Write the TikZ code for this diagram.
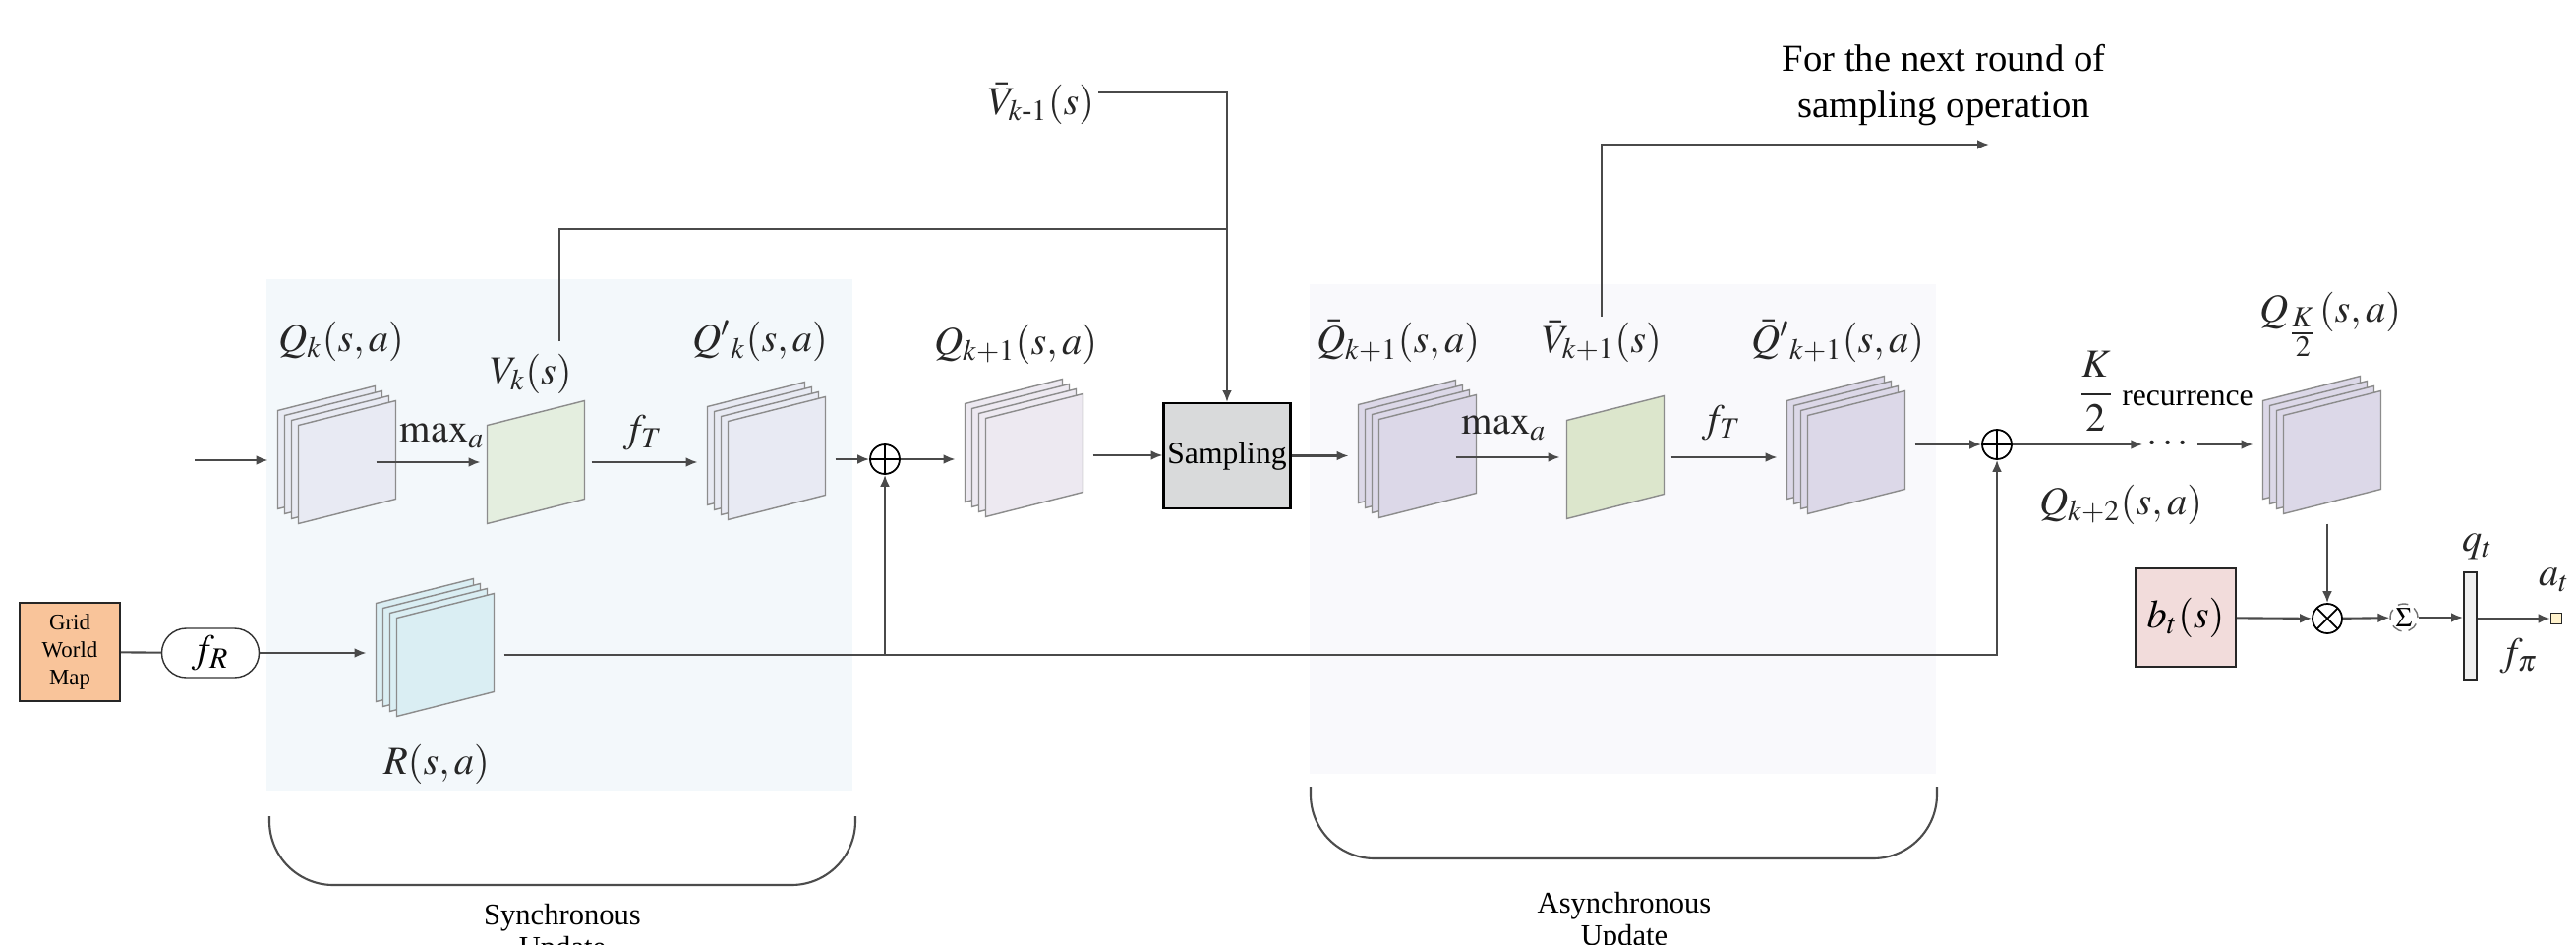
\documentclass[tikz,border=0pt]{standalone}
\usepackage{amsmath}
\usepackage{mathptmx}
\usepackage[no-math]{fontspec}
\setmainfont{Liberation Serif}
\usepackage{tikz}
\usetikzlibrary{positioning,calc,arrows.meta}

\definecolor{synbg}{HTML}{F3F8FB}
\definecolor{asybg}{HTML}{F9F9FC}
\definecolor{qkfill}{HTML}{E8EAF3}
\definecolor{vfill}{HTML}{E4EEDF}
\definecolor{qnfill}{HTML}{EDE9F1}
\definecolor{qbfill}{HTML}{DCD8E8}
\definecolor{vbfill}{HTML}{DCE6CC}
\definecolor{rfill}{HTML}{DAEEF3}
\definecolor{gridfill}{HTML}{F9C49A}
\definecolor{btfill}{HTML}{F2DCDB}
\definecolor{sampfill}{HTML}{D9DADB}
\definecolor{atfill}{HTML}{FFF2CC}
\definecolor{lnc}{HTML}{4A4A4A}

\tikzset{%
  ptr/.style={%
    -{Latex[length=3.4pt,width=2.8pt]},
    draw=lnc,
    line width=0.6pt
  },
  wire/.style={draw=lnc, line width=0.6pt},
  sheet/.style={draw=black!45, line width=0.4pt},
  stackbox/.style={inner sep=0, outer sep=0.1cm, minimum width=1.2cm, minimum height=1.25cm},
  onebox/.style={inner sep=0, outer sep=0.07cm, minimum width=0.99cm, minimum height=1.25cm},
  lbl/.style={font=\fontsize{11.5}{13}\selectfont, text=black!85, inner sep=1pt},
  sumc/.style={circle, draw=black, line width=0.5pt, minimum size=0.30cm, inner sep=0,
    path picture={\draw[line width=0.5pt] (path picture bounding box.north) -- (path picture bounding box.south)
      (path picture bounding box.west) -- (path picture bounding box.east);}},
  prodc/.style={circle, draw=black, line width=0.5pt, minimum size=0.30cm, inner sep=0,
    path picture={\draw[line width=0.5pt] (path picture bounding box.north west) -- (path picture bounding box.south east)
      (path picture bounding box.south west) -- (path picture bounding box.north east);}},
  brk/.style={draw=black!70, line width=0.6pt, rounded corners=0.65cm}
}

% stack of four sheets, front sheet centred at (#2,#3)
\newcommand{\sheetstack}[4]{%
  \foreach \n in {3,2,1,0}{%
    \filldraw[sheet,fill=#4] ($(#2,#3)+(-0.495-0.07*\n,-0.625+0.05*\n)$)
      -- ++(0.99,0.25) -- ++(0,1) -- ++(-0.99,-0.25) -- cycle;
  }
  \node[stackbox] (#1) at ($(#2,#3)+(-0.105,0)$) {};
}
% one single sheet
\newcommand{\sheetone}[4]{%
  \filldraw[sheet,fill=#4] ($(#2,#3)+(-0.495,-0.625)$)
    -- ++(0.99,0.25) -- ++(0,1) -- ++(-0.99,-0.25) -- cycle;
  \node[onebox] (#1) at (#2,#3) {};
}

\begin{document}
\begin{tikzpicture}
  \path[use as bounding box, fill=white] (0,0) rectangle (26.2,-9.61);

  % update regions
  \fill[synbg] (2.71,-2.84) rectangle (8.67,-8.04);
  \fill[asybg] (13.32,-2.89) rectangle (19.69,-7.87);
  \draw[brk] (2.74,-8.30) -- (2.74,-9.00) -- (8.70,-9.00) -- (8.70,-8.30);
  \draw[brk] (13.33,-8.00) -- (13.33,-8.73) -- (19.70,-8.73) -- (19.70,-8.00);
  \node[font=\fontsize{8.7}{9.4}\selectfont, align=center, anchor=north, inner sep=0] (synl)
    at (5.72,-9.19) {Synchronous\\Update};
  \node[font=\fontsize{8.7}{9.4}\selectfont, align=center, anchor=north, inner sep=0] (asyl)
    at (16.52,-9.07) {Asynchronous\\Update};

  % reward branch
  \node[draw=black!85, line width=0.6pt, fill=gridfill, minimum width=1.02cm, minimum height=1.0cm,
    inner sep=0, align=center, font=\fontsize{6.5}{8}\selectfont] (grid) at (0.71,-6.63) {Grid\\World\\Map};
  \node[draw=black!80, rounded corners=0.25cm, minimum width=0.99cm, minimum height=0.5cm,
    inner sep=0, font=\fontsize{11.5}{13}\selectfont] (fr) at (2.14,-6.64) {$f_R$};
  \sheetstack{r}{4.53}{-6.66}{rfill}
  \node[lbl] (rl) at (4.44,-7.77) {$R(s,a)$};

  % synchronous row
  \coordinate (in) at (1.98,-4.68);
  \sheetstack{qk}{3.53}{-4.70}{qkfill}
  \sheetone{vk}{5.45}{-4.70}{vfill}
  \sheetstack{qkp}{7.90}{-4.66}{qkfill}
  \node[sumc] (op1) at (9.00,-4.67) {};
  \sheetstack{qn}{10.52}{-4.63}{qnfill}
  \node[draw=black, line width=0.6pt, fill=sampfill, minimum width=1.29cm, minimum height=1.07cm,
    inner sep=0, font=\fontsize{9}{10}\selectfont] (samp) at (12.48,-4.635) {Sampling};

  \node[lbl] (qkl) at (3.47,-3.47) {$Q_k(s,a)$};
  \node[lbl] (vkl) at (5.40,-3.80) {$V_k(s)$};
  \node[lbl] (qkpl) at (7.73,-3.47) {$Q'{}_k(s,a)$};
  \node[lbl] (qnl) at (10.33,-3.50) {$Q_{k+1}(s,a)$};
  \node[lbl] (mx1) at (4.50,-4.43) {$\max_a$};
  \node[lbl] (ft1) at (6.54,-4.40) {$f_T$};

  % asynchronous row
  \sheetstack{qb}{14.52}{-4.64}{qbfill}
  \sheetone{vb}{16.43}{-4.65}{vbfill}
  \sheetstack{qbp}{18.88}{-4.60}{qbfill}
  \node[sumc] (op2) at (20.31,-4.52) {};
  \node[lbl] (qbl) at (14.22,-3.47) {$\bar{Q}_{k+1}(s,a)$};
  \node[lbl] (vbl) at (16.29,-3.47) {$\bar{V}_{k+1}(s)$};
  \node[lbl] (qbpl) at (18.69,-3.47) {$\bar{Q}'{}_{k+1}(s,a)$};
  \node[lbl] (mx2) at (15.30,-4.35) {$\max_a$};
  \node[lbl] (ft2) at (17.51,-4.30) {$f_T$};

  % recurrence and policy
  \node[lbl] (dots) at (22.07,-4.52) {$\cdots$};
  \sheetstack{qK}{23.72}{-4.60}{qbfill}
  \node[lbl] (kfrac) at (21.32,-3.98) {$\dfrac{K}{2}$};
  \node[font=\fontsize{9}{10}\selectfont, inner sep=0] (rec) at (22.25,-4.05) {recurrence};
  \node[lbl] (qk2l) at (21.57,-5.13) {$Q_{k+2}(s,a)$};
  \node[lbl] (qKl) at (23.70,-3.30) {$Q_{\tfrac{K}{2}}(s,a)$};

  \node[draw=black!85, line width=0.6pt, fill=btfill, minimum width=1.02cm, minimum height=1.0cm,
    inner sep=0, font=\fontsize{11.5}{13}\selectfont] (bt) at (22.23,-6.28) {$b_t(s)$};
  \node[prodc] (ot) at (23.67,-6.29) {};
  \node[circle, draw=black!55, densely dashed, minimum size=0.28cm, inner sep=0,
    font=\fontsize{8}{9}\selectfont] (sig) at (24.45,-6.28) {$\Sigma$};
  \node[draw=black!85, line width=0.6pt, fill=black!6, minimum width=0.13cm, minimum height=1.10cm,
    inner sep=0] (qt) at (25.125,-6.37) {};
  \node[draw=black!85, line width=0.5pt, fill=atfill, minimum size=0.11cm, inner sep=0] (at) at (26.00,-6.29) {};
  \node[lbl] (qtl) at (25.20,-5.56) {$q_t$};
  \node[lbl] (atl) at (25.98,-5.90) {$a_t$};
  \node[lbl] (fpl) at (25.62,-6.67) {$f_\pi$};

  % top feedback
  \node[lbl] (vml) at (10.59,-1.05) {$\bar{V}_{k\text{-}1}(s)$};
  \node[font=\fontsize{11}{13.4}\selectfont, align=center, inner sep=0] (nxt)
    at (19.77,-0.865) {For the next round of\\sampling operation};
  \coordinate (vkup) at (5.69,-3.47);
  \coordinate (jy) at (0,-2.33);
  \coordinate (nxtend) at (20.23,-1.47);

  % connectors
  \draw[ptr] (in) -- (in -| qk.west);
  \draw[ptr] ([xshift=-3mm]qk.east |- vk) -- (vk.west);
  \draw[ptr] (vk.east) -- (vk.east -| qkp.west);
  \draw[ptr] (qkp.east |- op1) -- (op1);
  \draw[ptr] (op1) -- (op1 -| qn.west);
  \draw[ptr] (qn.east) -- (qn.east -| samp.west);
  \draw[ptr] (samp.east) -- (samp.east -| qb.west);
  \draw[ptr] ([xshift=-3.1mm]qb.east |- vb) -- (vb.west);
  \draw[ptr] (vb.east) -- (vb.east -| qbp.west);
  \draw[ptr] (qbp.east |- op2) -- (op2);
  \draw[ptr] (op2) -- (dots);
  \draw[ptr] (dots) -- (dots -| qK.west);
  \draw[ptr] (qK.south -| ot) -- (ot);
  \draw[ptr] (bt) -- (ot);
  \draw[ptr] (ot) -- (sig);
  \draw[ptr] (sig) -- (sig -| qt.west);
  \draw[ptr] (qt.east |- at) -- (at);

  \draw[wire] (grid) -- (fr);
  \draw[ptr] (fr) -- (fr -| r.west);
  \draw[ptr] (r.east) -| (op2);
  \coordinate (tap) at (op1 |- r.east);
  \draw[ptr] (tap) -- (op1);

  \draw[ptr] ([yshift=1.1mm]vml.east) -| (samp.north);
  \draw[wire] (vkup) |- (jy -| samp.north);
  \draw[ptr] (vbl.north) |- (nxtend);
\end{tikzpicture}
\end{document}
